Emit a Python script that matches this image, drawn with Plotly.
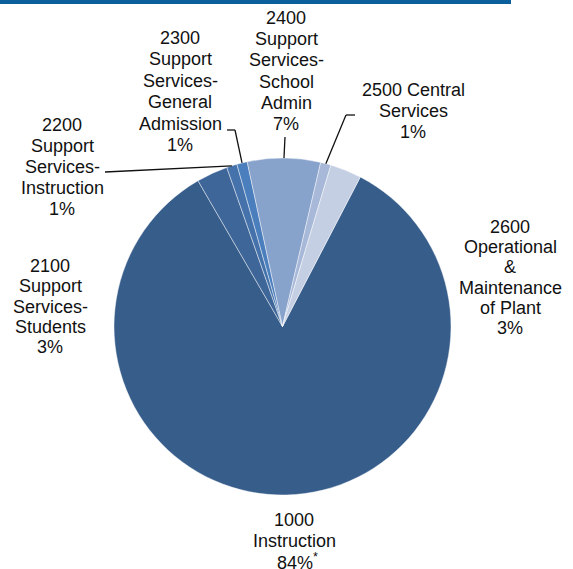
import math
import plotly.graph_objects as go

# Budget share by function code
codes = ["1000", "2100", "2200", "2300", "2400", "2500", "2600"]
names = [
    "Instruction",
    "Support Services-Students",
    "Support Services-Instruction",
    "Support Services-General Admission",
    "Support Services-School Admin",
    "Central Services",
    "Operational & Maintenance of Plant",
]
shares = [84, 3, 1, 1, 7, 1, 3]
colors = ["#375D8B", "#3E6699", "#4572AB", "#4A7EBC", "#87A2CB", "#A7B8D8", "#C5CFE3"]

# wrapped label text (percent line appended from shares)
label_text = [
    ["1000", "Instruction"],
    ["2100", "Support", "Services-", "Students"],
    ["2200", "Support", "Services-", "Instruction"],
    ["2300", "Support", "Services-", "General", "Admission"],
    ["2400", "Support", "Services-", "School", "Admin"],
    ["2500 Central", "Services"],
    ["2600", "Operational", "&", "Maintenance", "of Plant"],
]

W, H = 573, 569
FONT = "Liberation Sans, Arial, sans-serif"


def fx(x):
    return x / W


def fy(y):
    return 1 - y / H


# pie geometry in pixels
left, right, top, bottom = 114, 451, 158, 495
cx, cy = (left + right) / 2, (top + bottom) / 2
r = (right - left) / 2
rotation = 27.5

fig = go.Figure(
    go.Pie(
        labels=[f"{c} {n}" for c, n in zip(codes, names)],
        values=shares,
        sort=False,
        direction="clockwise",
        rotation=rotation,
        marker=dict(colors=colors, line=dict(color="rgba(255,255,255,0.55)", width=0.8)),
        textinfo="none",
        hoverinfo="label+percent",
        showlegend=False,
        domain=dict(x=[fx(left), fx(right)], y=[fy(bottom), fy(top)]),
    )
)

# slice mid-angles (degrees clockwise from 12 o'clock)
total = sum(shares)
mids = []
acc = 0
for v in shares:
    mids.append(rotation + (acc + v / 2) / total * 360)
    acc += v


def edge(i):
    a = math.radians(mids[i])
    return cx + r * math.sin(a), cy - r * math.cos(a)


# label placement: centre x, first line y, line spacing (px)
placement = [
    (294, 520, 20.8),
    (50, 266, 20.3),
    (62, 125, 21.0),
    (180, 38, 21.4),
    (286, 18, 21.2),
    (413, 90, 20.8),
    (510, 227, 20.2),
]

annotations = []
for i, lines in enumerate(label_text):
    xc, y0, sp = placement[i]
    pct = f"{shares[i]}%"
    all_lines = lines + [pct + ("<sup>*</sup>" if i == 0 else "")]
    for k, t in enumerate(all_lines):
        dx = 3 if (i == 0 and k == len(all_lines) - 1) else 0
        annotations.append(
            dict(
                x=fx(xc + dx), y=fy(y0 + k * sp), xref="paper", yref="paper",
                text=t, showarrow=False, xanchor="center", yanchor="middle",
                font=dict(family=FONT, size=18, color="#111111"),
            )
        )

# leader lines from labels to slice edges
shapes = [
    dict(type="rect", xref="paper", yref="paper", x0=0, x1=fx(511), y0=fy(0), y1=fy(4),
         fillcolor="#0B5F9B", line=dict(width=0)),
]
line_style = dict(color="#111111", width=1.3)
leaders = {
    2: [(105, 172)],
    3: [(227, 130), (235, 130)],
    4: [(285, 137)],
    5: [(355, 115), (346, 115)],
}
for i, pts in leaders.items():
    path = pts + [edge(i)]
    for (x0, y0), (x1, y1) in zip(path[:-1], path[1:]):
        shapes.append(dict(type="line", xref="paper", yref="paper",
                           x0=fx(x0), y0=fy(y0), x1=fx(x1), y1=fy(y1), line=line_style))

fig.update_layout(
    width=W, height=H,
    margin=dict(l=0, r=0, t=0, b=0),
    paper_bgcolor="white",
    plot_bgcolor="white",
    annotations=annotations,
    shapes=shapes,
)

fig.write_html("out.html", config={"displayModeBar": False})
